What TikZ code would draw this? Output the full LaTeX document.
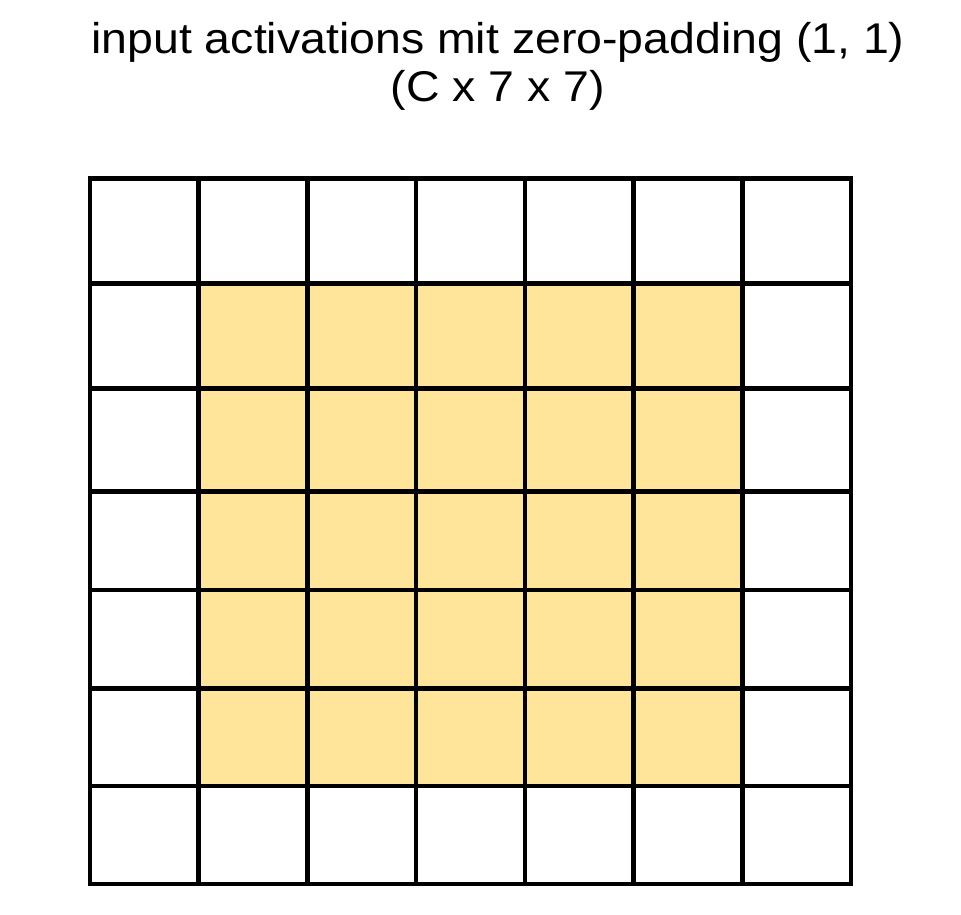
\documentclass[tikz,border=0pt]{standalone}
\usepackage{fontspec}
\setmainfont{Liberation Sans}
\definecolor{padgelb}{RGB}{255,229,153}
\tikzset{
    innen/.style={fill=padgelb, draw=none},
    gitter/.style={line width=4.5pt, line cap=rect},
    titel/.style={
        align=center,
        inner sep=0pt,
        font=\fontsize{43}{48.4}\selectfont,
        xscale=1.08,
        transform shape
    }
}
\begin{document}
\begin{tikzpicture}[x=1pt, y=-1pt]
    \useasboundingbox (0,0) rectangle (961,915);

    \node[titel, anchor=base] (titel) at (498,101.7)
        {input activations mit zero-padding (1, 1)\\(C x 7 x 7)};

    % gelbe Eingabewerte ohne Padding
    \fill[innen] (198.7,283.3) rectangle (742.9,786);

    % Gitter 7 x 7
    \foreach \i in {0,...,7}
        \draw[gitter] ({90+\i*108.71},178.7) -- ({90+\i*108.71},884);
    \foreach \y in {178.7,283.3,388.3,491.7,590,688.3,786,884}
        \draw[gitter] (90,\y) -- (851,\y);
\end{tikzpicture}
\end{document}
